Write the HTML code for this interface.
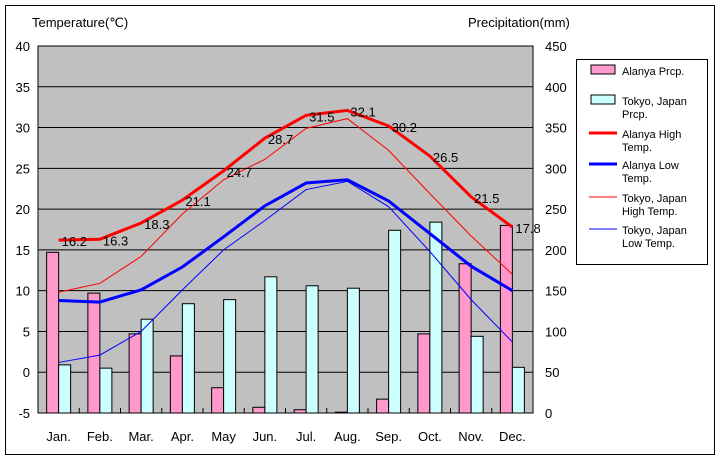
<!DOCTYPE html>
<html><head><meta charset="utf-8"><style>
body{margin:0;background:#fff}
svg{display:block;font-family:"Liberation Sans",sans-serif}
</style></head><body>
<svg id="s" width="720" height="460" xmlns="http://www.w3.org/2000/svg"></svg>
<script>
const s=document.getElementById('s');
let h='';
h+='<rect x="5.5" y="5.5" width="709" height="449" fill="#fff" stroke="#000"/>';
const L=38,T=46,R=533,B=413,W=R-L,H=B-T,mw=W/12;
h+=`<rect x="${L}" y="${T}" width="${W}" height="${H}" fill="#c0c0c0" stroke="#000"/>`;
const ty=t=>T+(40-t)*H/45, py=p=>B-p*H/450;
for(let i=0;i<=9;i++){const y=T+i*H/9;h+=`<line x1="${L}" x2="${R}" y1="${y}" y2="${y}" stroke="#000"/>`;
h+=`<text x="30" y="${y+5}" font-size="13" text-anchor="end">${40-5*i}</text>`;
h+=`<text x="545" y="${y+5}" font-size="13">${450-50*i}</text>`;}
for(let i=1;i<12;i++){const x=L+i*mw;h+=`<line x1="${x}" x2="${x}" y1="${B-5}" y2="${B}" stroke="#000"/>`;}
const pa=[197,147,97,70,31,7,4,1,17,97,183,230],pt=[59,55,115,134,139,167,156,153,224,234,94,56];
const ah=[16.2,16.3,18.3,21.1,24.7,28.7,31.5,32.1,30.2,26.5,21.5,17.8],al=[8.8,8.6,10.1,12.9,16.6,20.4,23.2,23.6,21.0,17.0,13.0,10.0],
th=[9.8,10.9,14.2,19.4,23.6,26.1,29.9,31.1,27.2,21.9,16.7,12.0],tl=[1.2,2.1,5.0,10.1,15.0,18.6,22.4,23.4,20.3,14.8,8.9,3.7];
const mn=['Jan.','Feb.','Mar.','Apr.','May','Jun.','Jul.','Aug.','Sep.','Oct.','Nov.','Dec.'];
for(let i=0;i<12;i++){const c=L+(i+0.5)*mw;
h+=`<rect x="${c-12}" y="${py(pa[i])}" width="12" height="${B-py(pa[i])}" fill="#ff99cc" stroke="#000" stroke-width="1"/>`;
h+=`<rect x="${c}" y="${py(pt[i])}" width="12" height="${B-py(pt[i])}" fill="#ccffff" stroke="#000" stroke-width="1"/>`;
h+=`<text x="${c}" y="441" font-size="13" text-anchor="middle">${mn[i]}</text>`;}
const line=(a,col,w)=>{h+=`<polyline fill="none" stroke="${col}" stroke-width="${w}" points="${a.map((v,i)=>(L+(i+0.5)*mw)+','+ty(v)).join(' ')}"/>`;};
line(th,'#ff0000',1);line(tl,'#0000ff',1);line(ah,'#ff0000',3);line(al,'#0000ff',3);
for(let i=0;i<12;i++){const c=L+(i+0.5)*mw;h+=`<text x="${c+3}" y="${ty(ah[i])+6}" font-size="13">${ah[i].toFixed(1)}</text>`;}
h+='<text x="32" y="27" font-size="13">Temperature(℃)</text><text x="468" y="27" font-size="13">Precipitation(mm)</text>';
h+='<rect x="576.5" y="59.5" width="131" height="205" fill="#fff" stroke="#000"/>';
const lg=[['rect','#ff99cc',['Alanya Prcp.']],['rect','#ccffff',['Tokyo, Japan','Prcp.']],['l3','#ff0000',['Alanya High','Temp.']],['l3','#0000ff',['Alanya Low','Temp.']],['l1','#ff0000',['Tokyo, Japan','High Temp.']],['l1','#0000ff',['Tokyo, Japan','Low Temp.']]];
const ys=[70,100,133,164,197,229];
lg.forEach((g,k)=>{const y=ys[k];
if(g[0]=='rect')h+=`<rect x="591" y="${y-5}" width="24" height="9" fill="${g[1]}" stroke="#000"/>`;
else h+=`<line x1="589" x2="617" y1="${y}" y2="${y}" stroke="${g[1]}" stroke-width="${g[0]=='l3'?3:1}"/>`;
g[2].forEach((t,j)=>h+=`<text x="622" y="${y+5+j*13}" font-size="11">${t}</text>`);});
s.innerHTML=h;
</script>
</body></html>
